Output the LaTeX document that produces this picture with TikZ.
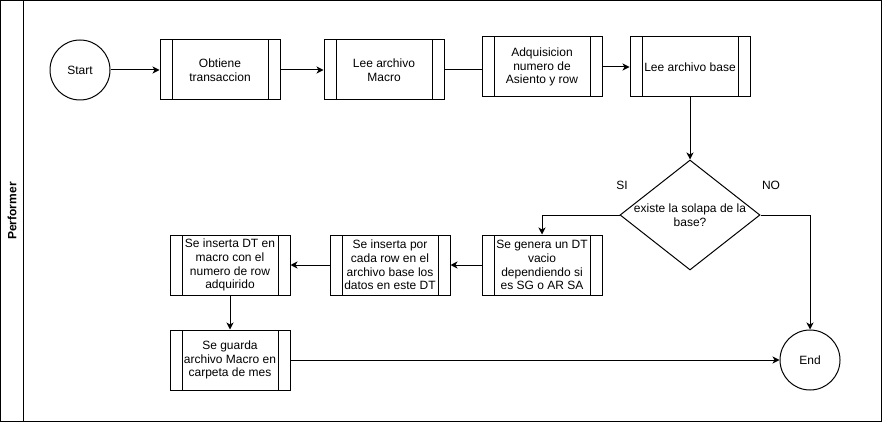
\documentclass[tikz,border=0pt]{standalone}
\usepackage{fontspec}
\setmainfont{Liberation Sans}
\usetikzlibrary{positioning,shapes.geometric,arrows.meta}
\tikzset{
    base/.style={
        draw=black,
        line width=1pt,
        font=\fontsize{12}{13.8}\selectfont,
        align=center,
        inner sep=0pt,
    },
    % Subprocess
    proc/.style={
        base,
        rectangle,
        minimum width=120pt,
        minimum height=60pt,
        path picture={
            \draw[line width=1pt]
                ([xshift=12pt]path picture bounding box.north west) --
                ([xshift=12pt]path picture bounding box.south west);
            \draw[line width=1pt]
                ([xshift=-12pt]path picture bounding box.north east) --
                ([xshift=-12pt]path picture bounding box.south east);
        },
    },
    % Start/End
    event/.style={
        base,
        circle,
        minimum size=60pt,
    },
    % Decision
    decision/.style={
        base,
        diamond,
        minimum width=140pt,
        minimum height=110pt,
    },
    % Connector
    flow/.style={
        line width=1pt,
        -{Stealth[length=7pt,width=7pt,inset=2pt]},
    },
    plain/.style={
        line width=1pt,
    },
    lbl/.style={
        font=\fontsize{12}{13.8}\selectfont,
        align=center,
        inner sep=0pt,
    },
}

\begin{document}
\begin{tikzpicture}[x=1pt,y=-1pt]
\useasboundingbox (0,0) rectangle (882,422);
% Pool with lane header
\draw[line width=1pt] (0.5,0.5) rectangle (881,421);
\draw[line width=1pt] (23,0.5) -- (23,421);
\node[lbl,rotate=90,font=\fontsize{12}{13.8}\selectfont\bfseries] (lane) at (12,211) {Performer};

% Top row
\node[event] (start) at (80,70) {Start};
\node[proc] (p1) at (220,70) {Obtiene\\transaccion};
\node[proc] (p2) at (384,70) {Lee archivo\\Macro};
\node[proc] (p3) at (542,67) {Adquisicion\\numero de\\Asiento y row};
\node[proc] (p4) at (690,67) {Lee archivo base};

% Decision
\node[decision] (dec) at (690,215) {};
\node[lbl] (dectext) at (690,215) {existe la solapa de la\\base?};
\node[lbl] (si) at (622,185) {SI};
\node[lbl] (no) at (771,185) {NO};

% Lower rows
\node[proc] (p5) at (542,265) {Se genera un DT\\vacio\\dependiendo si\\es SG o AR SA};
\node[proc] (p6) at (390,265) {Se inserta por\\cada row en el\\archivo base los\\datos en este DT};
\node[proc] (p7) at (230,265) {Se inserta DT en\\macro con el\\numero de row\\adquirido};
\node[proc] (p8) at (230,360) {Se guarda\\archivo Macro en\\carpeta de mes};
\node[event] (end) at (810,360) {End};

% Connectors
\draw[flow] (start) -- (p1);
\draw[flow] (p1) -- (p2);
\draw[plain] (p2.east) -- (p2.east -| p3.west);
\draw[flow] (p3) -- (p4);
\draw[flow] (p4) -- (dec);
\draw[flow] (dec.west) -| (p5.north);
\draw[flow] (dec.east) -| (end.north);
\draw[flow] (p5) -- (p6);
\draw[flow] (p6) -- (p7);
\draw[flow] (p7) -- (p8);
\draw[flow] (p8) -- (end);
\end{tikzpicture}
\end{document}
